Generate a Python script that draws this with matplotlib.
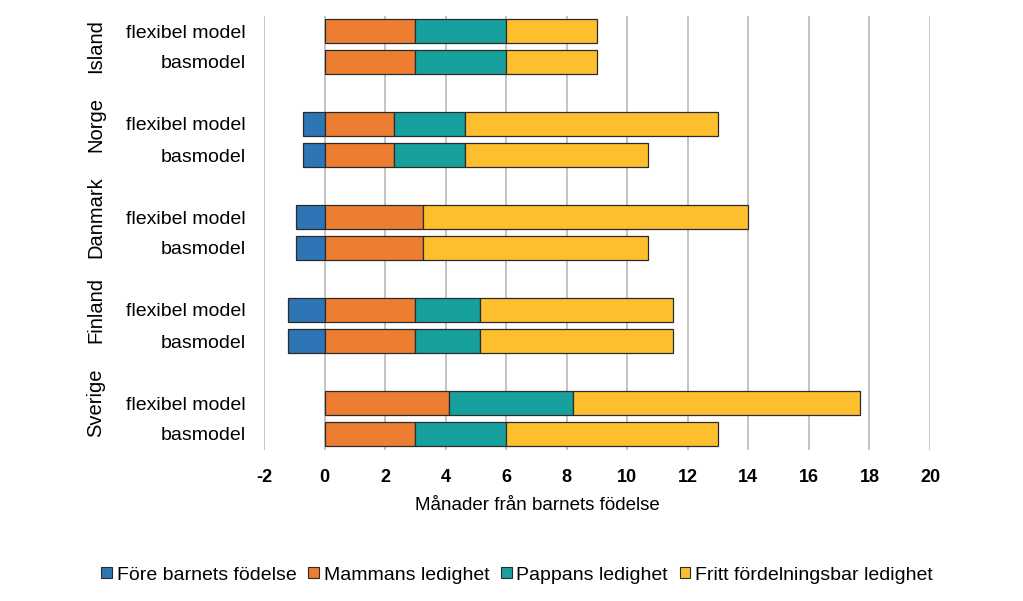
import matplotlib
matplotlib.use("Agg")
import matplotlib.pyplot as plt
from matplotlib.patches import Patch
import numpy as np

plt.rcParams['font.family'] = ['Liberation Sans', 'DejaVu Sans']

countries = ["Island", "Norge", "Danmark", "Finland", "Sverige"]
models = ["flexibel model", "basmodel"]
# order: Island flex, Island bas, Norge flex, Norge bas, ...
fore = [0, 0, -0.7, -0.7, -0.95, -0.95, -1.2, -1.2, 0, 0]
mamma = [3, 3, 2.3, 2.3, 3.25, 3.25, 3, 3, 4.1, 3]
pappa = [3, 3, 2.35, 2.35, 0, 0, 2.15, 2.15, 4.1, 3]
fritt = [3, 3, 8.35, 6.05, 10.75, 7.45, 6.35, 6.35, 9.5, 7]
series_names = ["Före barnets födelse", "Mammans ledighet", "Pappans ledighet",
                "Fritt fördelningsbar ledighet"]
xticks = [-2, 0, 2, 4, 6, 8, 10, 12, 14, 16, 18, 20]
xlabel = "Månader från barnets födelse"

colors = ["#2E75B6", "#ED7D31", "#17A09E", "#FDBF2D"]

fig = plt.figure(figsize=(10.23, 6.01), dpi=100)
ax = fig.add_axes([264/1023, 1-449.5/601, 666/1023, 434/601])

ypos = []
for g in range(len(countries)):
    for m in range(len(models)):
        ypos.append(g*3 + m)
ypos = np.array(ypos)

fore_a = np.array(fore, float)
mam_a = np.array(mamma, float)
pap_a = np.array(pappa, float)
fri_a = np.array(fritt, float)

h = 0.8
ekw = dict(edgecolor="#2b2b2b", linewidth=0.9, height=h, zorder=3)
mask = fore_a != 0
ax.barh(ypos[mask], fore_a[mask], left=0, color=colors[0], **ekw)
ax.barh(ypos, mam_a, left=0, color=colors[1], **ekw)
m2 = pap_a != 0
ax.barh(ypos[m2], pap_a[m2], left=mam_a[m2], color=colors[2], **ekw)
ax.barh(ypos, fri_a, left=mam_a + pap_a, color=colors[3], **ekw)

ax.set_xlim(-2, 20)
ax.set_ylim(13.5, -0.5)
ax.set_xticks(xticks)
ax.set_xticklabels([str(t) for t in xticks], fontsize=13, fontweight="bold")
ax.tick_params(axis="x", length=0, pad=14)
ax.grid(axis="x", color="#B4B4B4", linewidth=1.1, zorder=0)
ax.set_axisbelow(True)
for s in ax.spines.values():
    s.set_visible(False)

ax.set_yticks(ypos)
ax.set_yticklabels(models * len(countries), fontsize=14)
ax.tick_params(axis="y", length=0, pad=13)

# group label spans: first group = its two rows, later groups include the gap row above
for g, c in enumerate(countries):
    rows = [g*3, g*3 + 1] if g == 0 else [g*3 - 1, g*3, g*3 + 1]
    ax.text(-0.253, np.mean(rows), c, transform=ax.get_yaxis_transform(),
            rotation=90, ha="center", va="center", fontsize=14.5)

fig.text(537/1023, 1-505/601, xlabel, ha="center", va="center", fontsize=13.5)

handles = [Patch(facecolor=colors[i], edgecolor="#2b2b2b", linewidth=0.8)
           for i in range(4)]
fig.legend(handles, series_names, loc="center", bbox_to_anchor=(517/1023, 1-575/601),
           ncol=4, frameon=False, fontsize=14, handlelength=0.55, handleheight=0.55,
           handletextpad=0.25, columnspacing=0.6, borderaxespad=0)

fig.savefig("out.png", dpi=100, facecolor="white")
